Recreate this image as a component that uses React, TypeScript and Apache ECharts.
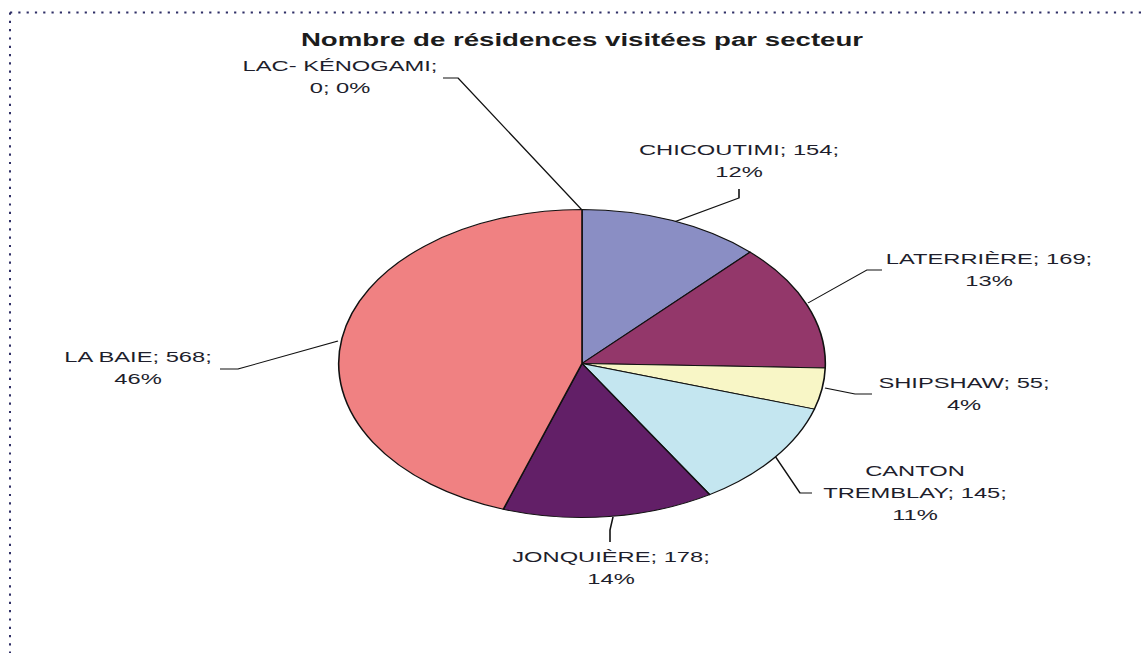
import React, { useEffect, useRef } from "react";
import * as echarts from "echarts";

// ---- data ----
const sectors = ["LAC- KÉNOGAMI", "CHICOUTIMI", "LATERRIÈRE", "SHIPSHAW", "CANTON TREMBLAY", "JONQUIÈRE", "LA BAIE"];
const residences = [0, 154, 169, 55, 145, 178, 568];
const percents = [0, 12, 13, 4, 11, 14, 46];
const colors = ["#9999FF", "#8A8EC4", "#93376A", "#F8F6C6", "#C4E6F0", "#621F67", "#F08182"];
const titleText = "Nombre de résidences visitées par secteur";

// ---- layout (the source image is stretched horizontally) ----
const STRETCH = 1.58;
const W = 725;
const H = 653;
const sx = (px: number) => px / STRETCH;

// label centres and label-line points, in page pixels of the reference
const labelPos: [number, number][] = [
  [340, 77], [739, 161], [989, 270], [964, 393.5], [915, 493], [611, 567.5], [138, 368],
];
const linePts: [number, number][][] = [
  [[582, 210], [458, 78], [443, 78]],
  [[674, 222], [739, 198], [739, 189]],
  [[808, 303], [867, 270], [882, 270]],
  [[825, 388], [855, 394], [872, 394]],
  [[775, 456], [800, 493], [812, 493]],
  [[613, 517], [610, 530], [610, 542]],
  [[338, 341], [238, 369], [220, 369]],
];

function labelText(i: number): string {
  const name = sectors[i];
  const v = residences[i];
  const p = percents[i];
  if (i === 0) return `${name};\n${v}; ${p}%`;
  if (i === 4) {
    const parts = name.split(" ");
    return `${parts[0]}\n${parts.slice(1).join(" ")}; ${v};\n${p}%`;
  }
  return `${name}; ${v};\n${p}%`;
}

export default function App() {
  const ref = useRef<HTMLDivElement>(null);
  useEffect(() => {
    if (!ref.current) return;
    const chart = echarts.init(ref.current, null, { renderer: "svg" });
    chart.setOption({
      animation: false,
      backgroundColor: "#ffffff",
      title: {
        text: titleText,
        left: sx(582),
        top: 30.5,
        textAlign: "center",
        padding: 0,
        textStyle: { fontFamily: "Liberation Sans", fontSize: 17.5, fontWeight: "bold", color: "#1c1c1c" },
      },
      graphic: [
        {
          type: "line",
          shape: { x1: sx(10), y1: 12.5, x2: W, y2: 12.5 },
          style: { stroke: "#2f2f66", lineWidth: 2, lineDash: [sx(2.2), sx(6.1)] },
        },
        {
          type: "line",
          shape: { x1: sx(10), y1: 12.5, x2: sx(10), y2: H },
          style: { stroke: "#2f2f66", lineWidth: sx(2), lineDash: [2.2, 6.1] },
        },
      ],
      series: [
        {
          type: "pie",
          center: [sx(582), 363.5],
          radius: 154,
          startAngle: 90,
          clockwise: true,
          avoidLabelOverlap: false,
          stillShowZeroSum: true,
          itemStyle: { borderColor: "#111", borderWidth: 1 },
          emphasis: { disabled: true },
          label: {
            show: true,
            formatter: (p: any) => labelText(p.dataIndex),
            fontFamily: "Liberation Sans",
            fontSize: 15,
            lineHeight: 22,
            color: "#1e1e2c",
            align: "center",
          },
          labelLine: { show: true, lineStyle: { color: "#111", width: 1 } },
          labelLayout: (p: any) => {
            const i = p.dataIndex;
            return {
              x: sx(labelPos[i][0]),
              y: labelPos[i][1],
              align: "center",
              verticalAlign: "middle",
              labelLinePoints: linePts[i].map(([x, y]) => [sx(x), y]),
            };
          },
          data: sectors.map((name, i) => ({
            name,
            value: residences[i],
            itemStyle: { color: colors[i] },
          })),
        },
      ],
    });
    return () => chart.dispose();
  }, []);
  return (
    <div
      ref={ref}
      style={{
        position: "fixed",
        left: 0,
        top: 0,
        width: W,
        height: H,
        transform: `scaleX(${STRETCH})`,
        transformOrigin: "0 0",
      }}
    />
  );
}
